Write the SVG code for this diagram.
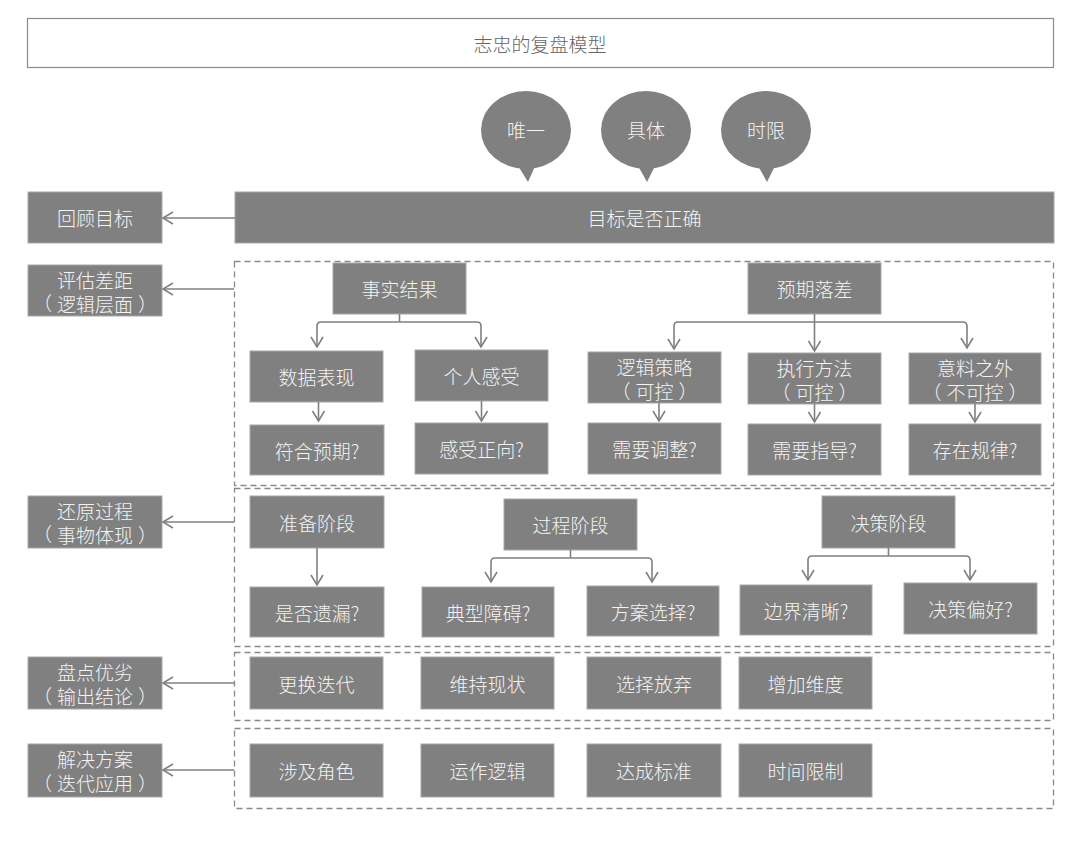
<svg xmlns="http://www.w3.org/2000/svg" width="1080" height="849" viewBox="0 0 1080 849">
<defs>
<style>
.bx{fill:#808080;stroke:#a8a8a8;stroke-width:1}
.t{font-family:"Noto Sans CJK SC","Noto Sans",sans-serif;font-size:19px;font-weight:300;fill:#f4f4f4;text-anchor:middle;dominant-baseline:central}
.tt{font-family:"Noto Sans CJK SC","Noto Sans",sans-serif;font-size:19px;font-weight:300;fill:#666;text-anchor:middle;dominant-baseline:central}
.dash{fill:none;stroke:#8a8a8a;stroke-width:1.3;stroke-dasharray:6 4}
.ln{fill:none;stroke:#808080;stroke-width:1.6}
</style>
<marker id="arr" markerUnits="userSpaceOnUse" markerWidth="16" markerHeight="16" viewBox="0 0 16 16" refX="13" refY="8" orient="auto">
<path d="M3,2 L13,8 L3,14" fill="none" stroke="#808080" stroke-width="1.6"/>
</marker>
</defs>
<rect width="1080" height="849" fill="#fff"/>

<g id="title">
<rect x="27.5" y="18.5" width="1026" height="49" fill="#fff" stroke="#8a8a8a" stroke-width="1.2"/>
<text class="tt" x="540" y="43">志忠的复盘模型</text>
</g>

<g id="bubble-weiyi">
<ellipse cx="526" cy="130" rx="45" ry="39" fill="#808080"/>
<path d="M517,164 L536,164 L528,182 Z" fill="#808080"/>
<text class="t" x="526" y="129">唯一</text>
</g>
<g id="bubble-juti">
<ellipse cx="646" cy="130" rx="45" ry="39" fill="#808080"/>
<path d="M637,164 L656,164 L647,182 Z" fill="#808080"/>
<text class="t" x="646" y="129">具体</text>
</g>
<g id="bubble-shixian">
<ellipse cx="766" cy="130" rx="45" ry="39" fill="#808080"/>
<path d="M757,164 L776,164 L767,182 Z" fill="#808080"/>
<text class="t" x="766" y="129">时限</text>
</g>

<g id="goal-bar">
<rect class="bx" x="235" y="192" width="819" height="51"/>
<text class="t" x="644.5" y="217.5">目标是否正确</text>
</g>

<g id="left-review"><rect class="bx" x="28" y="192" width="134" height="51"/><text class="t" x="95" y="217.5">回顾目标</text></g>
<g id="left-gap"><rect class="bx" x="28" y="265" width="134" height="51"/><text class="t" x="95" y="279">评估差距</text><text class="t" x="95" y="302.5">（<tspan dx="5">逻辑层面</tspan><tspan dx="5">）</tspan></text></g>
<g id="left-process"><rect class="bx" x="28" y="496" width="134" height="52"/><text class="t" x="95" y="510">还原过程</text><text class="t" x="95" y="533.5">（<tspan dx="5">事物体现</tspan><tspan dx="5">）</tspan></text></g>
<g id="left-pros"><rect class="bx" x="28" y="657" width="134" height="52"/><text class="t" x="95" y="671.5">盘点优劣</text><text class="t" x="95" y="695">（<tspan dx="5">输出结论</tspan><tspan dx="5">）</tspan></text></g>
<g id="left-solution"><rect class="bx" x="28" y="744" width="134" height="53"/><text class="t" x="95" y="758.5">解决方案</text><text class="t" x="95" y="782">（<tspan dx="5">迭代应用</tspan><tspan dx="5">）</tspan></text></g>

<g id="frames">
<rect class="dash" x="234.5" y="261.5" width="819" height="224"/>
<rect class="dash" x="234.5" y="488.5" width="819" height="158"/>
<rect class="dash" x="234.5" y="652.5" width="819" height="68"/>
<rect class="dash" x="234.5" y="728.5" width="819" height="80"/>
</g>

<g id="fact"><rect class="bx" x="333" y="263" width="133" height="51"/><text class="t" x="399.5" y="288.5">事实结果</text></g>
<g id="data"><rect class="bx" x="250" y="351" width="133" height="51"/><text class="t" x="316.5" y="376.5">数据表现</text></g>
<g id="feel"><rect class="bx" x="415" y="350" width="133" height="51"/><text class="t" x="481.5" y="375.5">个人感受</text></g>
<g id="expect-ok"><rect class="bx" x="250" y="425" width="134" height="50"/><text class="t" x="317" y="450">符合预期?</text></g>
<g id="feel-pos"><rect class="bx" x="415" y="423" width="133" height="51"/><text class="t" x="481.5" y="448.5">感受正向?</text></g>

<g id="expect-gap"><rect class="bx" x="748" y="263" width="133" height="51"/><text class="t" x="814.5" y="288.5">预期落差</text></g>
<g id="logic"><rect class="bx" x="588" y="352" width="133" height="51"/><text class="t" x="654.5" y="366.5">逻辑策略</text><text class="t" x="654.5" y="390">（<tspan dx="5">可控</tspan><tspan dx="5">）</tspan></text></g>
<g id="exec"><rect class="bx" x="748" y="353" width="133" height="51"/><text class="t" x="814.5" y="367.5">执行方法</text><text class="t" x="814.5" y="391">（<tspan dx="5">可控</tspan><tspan dx="5">）</tspan></text></g>
<g id="unexpected"><rect class="bx" x="909" y="353" width="132" height="51"/><text class="t" x="975" y="367.5">意料之外</text><text class="t" x="975" y="391">（<tspan dx="5">不可控</tspan><tspan dx="5">）</tspan></text></g>
<g id="adjust"><rect class="bx" x="588" y="423" width="133" height="51"/><text class="t" x="654.5" y="448.5">需要调整?</text></g>
<g id="guide"><rect class="bx" x="748" y="424" width="133" height="51"/><text class="t" x="814.5" y="449.5">需要指导?</text></g>
<g id="pattern"><rect class="bx" x="909" y="424" width="132" height="51"/><text class="t" x="975" y="449.5">存在规律?</text></g>

<g id="prep"><rect class="bx" x="250" y="496" width="134" height="52"/><text class="t" x="317" y="522">准备阶段</text></g>
<g id="omit"><rect class="bx" x="250" y="587" width="134" height="50"/><text class="t" x="317" y="612">是否遗漏?</text></g>
<g id="proc"><rect class="bx" x="504" y="499" width="133" height="51"/><text class="t" x="570.5" y="524.5">过程阶段</text></g>
<g id="obstacle"><rect class="bx" x="422" y="587" width="132" height="50"/><text class="t" x="488" y="612">典型障碍?</text></g>
<g id="plan"><rect class="bx" x="587" y="586" width="132" height="50"/><text class="t" x="653" y="611">方案选择?</text></g>
<g id="decide"><rect class="bx" x="822" y="496" width="133" height="52"/><text class="t" x="888.5" y="522">决策阶段</text></g>
<g id="boundary"><rect class="bx" x="740" y="585" width="132" height="50"/><text class="t" x="806" y="610">边界清晰?</text></g>
<g id="pref"><rect class="bx" x="904" y="583" width="133" height="51"/><text class="t" x="970.5" y="608.5">决策偏好?</text></g>

<g id="o1"><rect class="bx" x="250" y="657" width="133" height="52"/><text class="t" x="316.5" y="683">更换迭代</text></g>
<g id="o2"><rect class="bx" x="421" y="657" width="133" height="52"/><text class="t" x="487.5" y="683">维持现状</text></g>
<g id="o3"><rect class="bx" x="587" y="657" width="134" height="52"/><text class="t" x="654" y="683">选择放弃</text></g>
<g id="o4"><rect class="bx" x="739" y="657" width="133" height="52"/><text class="t" x="805.5" y="683">增加维度</text></g>

<g id="s1"><rect class="bx" x="250" y="744" width="133" height="53"/><text class="t" x="316.5" y="770">涉及角色</text></g>
<g id="s2"><rect class="bx" x="421" y="744" width="133" height="53"/><text class="t" x="487.5" y="770">运作逻辑</text></g>
<g id="s3"><rect class="bx" x="587" y="744" width="134" height="53"/><text class="t" x="654" y="770">达成标准</text></g>
<g id="s4"><rect class="bx" x="739" y="744" width="133" height="53"/><text class="t" x="805.5" y="770">时间限制</text></g>

<g id="connectors">
<path class="ln" d="M235,218 H163" marker-end="url(#arr)"/>
<path class="ln" d="M234,289 H163" marker-end="url(#arr)"/>
<path class="ln" d="M234,522 H163" marker-end="url(#arr)"/>
<path class="ln" d="M234,683 H163" marker-end="url(#arr)"/>
<path class="ln" d="M234,770 H163" marker-end="url(#arr)"/>

<path class="ln" d="M399.5,314 V322"/>
<path class="ln" d="M399.5,322 H321 Q317,322 317,326 V347" marker-end="url(#arr)"/>
<path class="ln" d="M399.5,322 H477 Q481,322 481,326 V347" marker-end="url(#arr)"/>
<path class="ln" d="M318.5,402 V421" marker-end="url(#arr)"/>
<path class="ln" d="M481.5,401 V421" marker-end="url(#arr)"/>

<path class="ln" d="M814.5,314 V351" marker-end="url(#arr)"/>
<path class="ln" d="M814.5,322 H678 Q674,322 674,326 V349" marker-end="url(#arr)"/>
<path class="ln" d="M814.5,322 H963 Q967,322 967,326 V348" marker-end="url(#arr)"/>
<path class="ln" d="M659,403 V421" marker-end="url(#arr)"/>
<path class="ln" d="M814.5,404 V422" marker-end="url(#arr)"/>
<path class="ln" d="M975,404 V422" marker-end="url(#arr)"/>

<path class="ln" d="M317,548 V585" marker-end="url(#arr)"/>
<path class="ln" d="M570.5,550 V558"/>
<path class="ln" d="M570.5,558 H495 Q491,558 491,562 V582" marker-end="url(#arr)"/>
<path class="ln" d="M570.5,558 H648 Q652,558 652,562 V582" marker-end="url(#arr)"/>
<path class="ln" d="M888.5,548 V556"/>
<path class="ln" d="M888.5,556 H812 Q808,556 808,560 V580" marker-end="url(#arr)"/>
<path class="ln" d="M888.5,556 H966 Q970,556 970,560 V580" marker-end="url(#arr)"/>
</g>
</svg>
